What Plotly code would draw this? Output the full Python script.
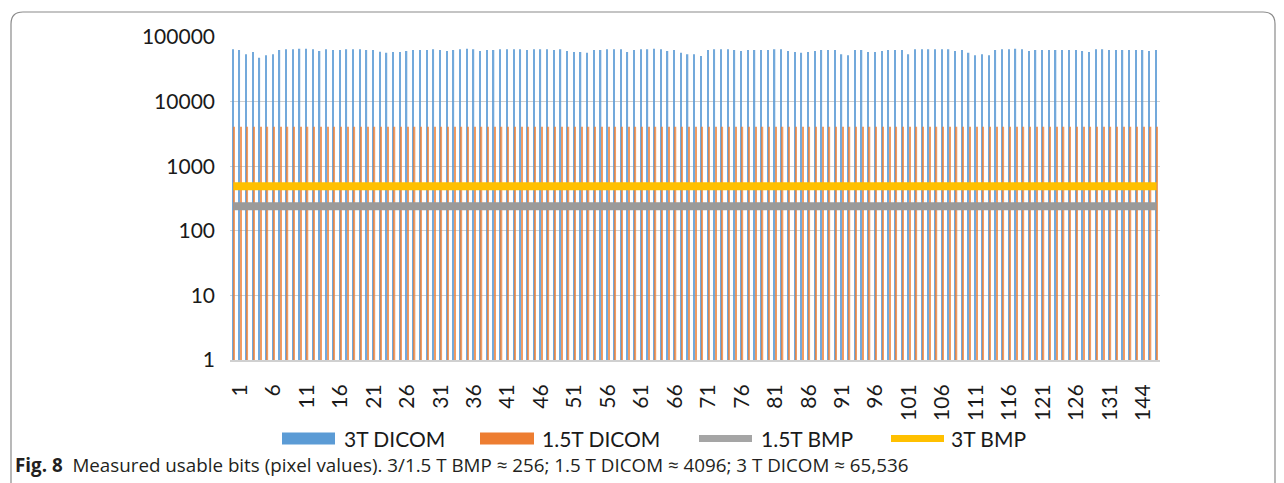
import plotly.graph_objects as go

# ---------------- data ----------------
categories = [str(i) for i in range(0, 136)] + ["144", "145", "146"]

dicom_3t = [
    64400, 62900, 53900, 58500, 47800, 52000, 53900, 62900, 64400, 64400, 66000, 66000,
    64400, 60700, 64400, 62900, 62900, 64400, 64400, 64400, 62900, 62900, 59300, 57200,
    58500, 58500, 60700, 62900, 62900, 62900, 64400, 62900, 60700, 62900, 64400, 66000,
    64400, 60700, 62900, 62900, 64400, 64400, 64400, 64400, 62900, 64400, 64400, 64400,
    62900, 64400, 60700, 58500, 58500, 57200, 62900, 62900, 64400, 64400, 64400, 58500,
    62900, 64400, 64400, 66000, 64400, 60700, 62900, 57200, 53900, 53900,
    50700, 62900, 64400, 64400, 64400, 62900, 60700, 62900, 62900, 62900, 62900, 64400,
    64400, 60700, 58500, 57200, 58500, 60700, 62900, 62900, 62900, 53900, 52000, 62900,
    62900, 58500, 58500, 60700, 62900, 62900, 62900, 53900, 64400,
    64400, 64400, 64400, 64400, 64400, 60700, 62900, 57200, 52000, 53900, 52000, 62900,
    64400, 64400, 66000, 64400, 60700, 62900, 62900, 62900, 62900, 62900, 62900, 62900,
    60700, 58500, 64400, 64400, 62900, 62900, 62900, 62900, 62900, 62900, 60700, 62900,
]
dicom_15t = [4096] * len(categories)
bmp_15t = [240] * len(categories)
bmp_3t = [490] * len(categories)

tick_idx = list(range(1, len(categories), 5))
tick_vals = [categories[i] for i in tick_idx]
tick_text = tick_vals

series_names = ["3T DICOM", "1.5T DICOM", "1.5T BMP", "3T BMP"]
colors = ["#5b9bd5", "#ed7d31", "#a5a5a5", "#ffc000"]

# ---------------- layout geometry (screen pixels) ----------------
OFF = 8  # page body margin offset
W, H = 1284, 483
PL, PR, PT, PB = 230, 1160, 37, 360


def px(x):
    return (x - PL) / (PR - PL)


def py(y):
    return (PB - y) / (PB - PT)


fig = go.Figure()
fig.add_trace(go.Bar(x=categories, y=dicom_3t, name=series_names[0], opacity=0.85,
                     marker=dict(color=colors[0], line=dict(width=0)), showlegend=False))
fig.add_trace(go.Bar(x=categories, y=dicom_15t, name=series_names[1], opacity=0.75,
                     marker=dict(color=colors[1], line=dict(width=0)), showlegend=False))
fig.add_trace(go.Scatter(x=categories, y=bmp_15t, name=series_names[2], mode="lines",
                         line=dict(color="#9a9a9a", width=8), showlegend=False))
fig.add_trace(go.Scatter(x=categories, y=bmp_3t, name=series_names[3], mode="lines",
                         line=dict(color=colors[3], width=8), showlegend=False))

shapes = []
annotations = []

# outer rounded frame
r = 12
x0, x1, y0, y1 = 11, 1275, 12, 520
path = (f"M {px(x0)},{py(y1)} L {px(x0)},{py(y0 + r)} Q {px(x0)},{py(y0)} {px(x0 + r)},{py(y0)} "
        f"L {px(x1 - r)},{py(y0)} Q {px(x1)},{py(y0)} {px(x1)},{py(y0 + r)} "
        f"L {px(x1)},{py(y1)}")
shapes.append(dict(type="path", xref="paper", yref="paper", path=path,
                   line=dict(color="#8a8a8a", width=1.2), layer="below"))

# custom legend
leg_y = 438.5
leg_items = [
    ("rect", 282, 335, 342, series_names[0], colors[0]),
    ("rect", 480, 534, 540, series_names[1], colors[1]),
    ("line", 699, 752, 759, series_names[2], colors[2]),
    ("line", 891, 944, 949, series_names[3], colors[3]),
]
for kind, a, b, tx, label, col in leg_items:
    if kind == "rect":
        shapes.append(dict(type="rect", xref="paper", yref="paper",
                           x0=px(a), x1=px(b), y0=py(leg_y + 6), y1=py(leg_y - 6),
                           fillcolor=col, line=dict(width=0)))
    else:
        shapes.append(dict(type="line", xref="paper", yref="paper",
                           x0=px(a), x1=px(b), y0=py(leg_y), y1=py(leg_y),
                           line=dict(color=col, width=7)))
    annotations.append(dict(text=label, xref="paper", yref="paper", x=px(tx), y=py(leg_y),
                            xanchor="left", yanchor="middle", showarrow=False,
                            font=dict(family="Lato", size=21, color="#1a1a1a")))

# caption
annotations.append(dict(
    text="<b>Fig. 8</b>  Measured usable bits (pixel values). 3/1.5 T BMP ≈ 256; "
         "1.5 T DICOM ≈ 4096; 3 T DICOM ≈ 65,536",
    xref="paper", yref="paper", x=px(13), y=py(465), xanchor="left", yanchor="middle",
    showarrow=False, font=dict(family="Open Sans", size=18.8, color="#231f20")))

fig.update_layout(
    width=W, height=H,
    margin=dict(l=PL - OFF, r=W - PR + OFF, t=PT - OFF, b=H - PB + OFF, pad=0),
    paper_bgcolor="white", plot_bgcolor="white",
    barmode="group", bargap=0.6, bargroupgap=0.0,
    showlegend=False,
    shapes=shapes, annotations=annotations,
    font=dict(family="Lato", color="#1a1a1a"),
)
fig.update_yaxes(type="log", range=[0, 5],
                 tickvals=[1, 10, 100, 1000, 10000, 100000],
                 ticktext=["1", "10", "100", "1000", "10000", "100000"],
                 tickfont=dict(family="Lato", size=21, color="#1a1a1a"),
                 showgrid=True, gridcolor="#d0d0d0", gridwidth=1,
                 zeroline=False, showline=False, ticks="", ticklabelstandoff=14)
fig.update_xaxes(type="category", tickmode="array", tickvals=tick_vals, ticktext=tick_text,
                 tickangle=-90, tickfont=dict(family="Lato", size=21, color="#1a1a1a"),
                 showgrid=False, showline=True, linecolor="#d0d0d0", linewidth=2,
                 ticks="", ticklabelstandoff=14)

fig.write_html("out.html")
